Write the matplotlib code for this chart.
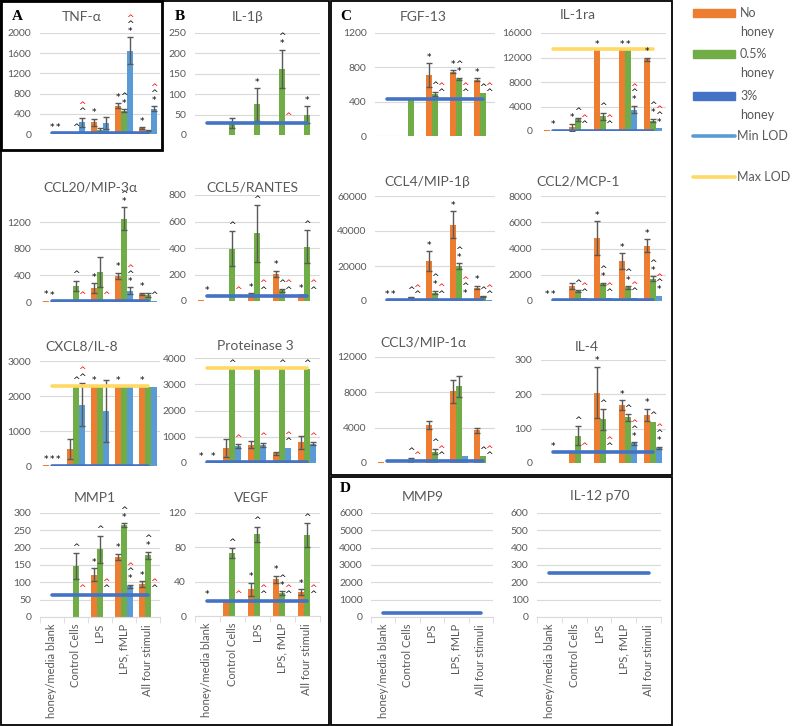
import matplotlib
matplotlib.use("Agg")
import matplotlib.pyplot as plt
from matplotlib.lines import Line2D
from matplotlib.patches import Rectangle
import numpy as np

plt.rcParams['font.family'] = ['Lato', 'DejaVu Sans']

# ---------------- data ----------------
categories = ["honey/media blank", "Control Cells", "LPS", "LPS, fMLP", "All four stimuli"]
series_names = ["No\nhoney", "0.5%\nhoney", "3%\nhoney"]

# each *_vals / *_errs: [No honey, 0.5% honey, 3% honey] x categories
TNF_vals = [[0, 0, 230, 560, 110], [0, 10, 80, 460, 60], [0, 230, 220, 1650, 500]]
TNF_errs = [[0, 0, 70, 50, 20], [0, 0, 40, 30, 10], [0, 90, 120, 270, 50]]
TNF_lod = [20, None]
TNF_marks = [(0, 1, "*"), (0, 2, "*"), (1, 1, "^"), (1, 2, "^r"), (2, 0, "*"), (3, 0, "*"),
             (3, 1, "*^"), (3, 2, "*^r"), (4, 0, "*"), (4, 2, "*^r")]

IL1b_vals = [[0, 0, 0, 0, 0], [0, 30, 75, 162, 50], [0, 0, 0, 0, 0]]
IL1b_errs = [[0, 0, 0, 0, 0], [0, 12, 40, 47, 20], [0, 0, 0, 0, 0]]
IL1b_lod = [30, None]
IL1b_marks = [(2, 1, "*"), (3, 1, "*^"), (3, 2, "r"), (4, 1, "*")]

CCL20_vals = [[20, 0, 210, 390, 120], [0, 240, 450, 1250, 100], [0, 0, 0, 170, 10]]
CCL20_errs = [[0, 0, 70, 50, 20], [0, 80, 220, 170, 30], [0, 0, 0, 50, 0]]
CCL20_lod = [10, None]
CCL20_marks = [(0, 0, "*"), (0, 1, "*"), (1, 1, "^"), (1, 2, "r"), (2, 0, "*"), (2, 2, "r"),
               (3, 0, "*"), (3, 1, "*^"), (3, 2, "*^r"), (4, 0, "*"), (4, 2, "^")]

CCL5_vals = [[5, 0, 50, 205, 50], [0, 395, 510, 80, 410], [0, 0, 0, 0, 0]]
CCL5_errs = [[0, 0, 10, 25, 0], [0, 130, 215, 10, 125], [0, 0, 0, 0, 0]]
CCL5_lod = [38, None]
CCL5_marks = [(0, 1, "*"), (1, 1, "^"), (1, 2, "r"), (2, 0, "*"), (2, 1, "^"), (2, 2, "^r"),
              (3, 0, "*"), (3, 1, "^"), (3, 2, "^r"), (4, 0, "*"), (4, 1, "^"), (4, 2, "^r")]

CXCL8_vals = [[20, 480, 2270, 2270, 2270], [0, 2270, 2270, 2270, 2270], [0, 1750, 1580, 2270, 2270]]
CXCL8_errs = [[0, 280, 0, 0, 0], [0, 0, 0, 0, 0], [0, 620, 880, 0, 0]]
CXCL8_lod = [10, 2290]
CXCL8_marks = [(0, 0, "*"), (0, 1, "*"), (0, 2, "*"), (1, 1, "^"), (1, 2, "^r"),
               (2, 0, "*"), (3, 0, "*"), (4, 0, "*")]

PR3_vals = [[10, 570, 690, 370, 790], [0, 3580, 3580, 3580, 3580], [0, 640, 690, 580, 740]]
PR3_errs = [[0, 330, 130, 50, 250], [0, 0, 0, 0, 0], [0, 80, 80, 0, 60]]
PR3_lod = [25, 3620]
PR3_marks = [(0, 0, "*"), (0, 2, "*"), (1, 1, "^"), (1, 2, "r"), (2, 2, "r"), (3, 1, "^"),
             (3, 2, "^r"), (4, 1, "^"), (4, 2, "r")]

MMP1_vals = [[0, 0, 122, 173, 95], [0, 147, 195, 265, 178], [0, 0, 0, 88, 0]]
MMP1_errs = [[0, 0, 18, 10, 8], [0, 37, 40, 6, 10], [0, 0, 0, 5, 0]]
MMP1_lod = [64, None]
MMP1_marks = [(1, 1, "^"), (1, 2, "r"), (2, 0, "*"), (2, 1, "^"), (2, 2, "^r"), (3, 0, "*"),
              (3, 1, "*^"), (3, 2, "*^r"), (4, 0, "*"), (4, 1, "*^"), (4, 2, "^r")]

VEGF_vals = [[0, 17, 31, 43, 28], [0, 73, 95, 27, 94], [0, 0, 0, 0, 0]]
VEGF_errs = [[0, 0, 8, 4, 3], [0, 6, 9, 2, 14], [0, 0, 0, 0, 0]]
VEGF_lod = [18, None]
VEGF_marks = [(0, 1, "*"), (1, 1, "^"), (1, 2, "r"), (2, 0, "*"), (2, 1, "^"), (2, 2, "^r"),
              (3, 0, "*"), (3, 1, "*^"), (3, 2, "^r"), (4, 0, "*"), (4, 1, "^"), (4, 2, "^r")]

FGF_vals = [[0, 0, 710, 750, 655], [0, 430, 490, 665, 500], [0, 0, 0, 0, 0]]
FGF_errs = [[0, 0, 140, 20, 20], [0, 0, 25, 15, 0], [0, 0, 0, 0, 0]]
FGF_lod = [433, None]
FGF_marks = [(2, 0, "*"), (2, 1, "^"), (2, 2, "^r"), (3, 0, "*"), (3, 1, "*^"), (3, 2, "^r"),
             (4, 0, "*"), (4, 1, "^"), (4, 2, "^r")]

IL1ra_vals = [[100, 600, 13200, 13200, 11700], [0, 1900, 2400, 13200, 1700], [0, 100, 0, 3500, 500]]
IL1ra_errs = [[0, 600, 0, 0, 300], [0, 250, 600, 0, 300], [0, 0, 0, 600, 0]]
IL1ra_lod = [50, 13430]
IL1ra_marks = [(0, 1, "*"), (1, 0, "*"), (1, 1, "^"), (1, 2, "^r"), (2, 0, "*"), (2, 1, "^"),
               (2, 2, "^r"), (3, 0, "*"), (3, 1, "*"), (3, 2, "*^r"), (4, 0, "*"), (4, 1, "*^"),
               (4, 2, "*^r")]

CCL4_vals = [[0, 0, 22800, 43500, 7700], [0, 2200, 4800, 20000, 2600], [0, 0, 500, 800, 300]]
CCL4_errs = [[0, 0, 5500, 7700, 1000], [0, 300, 1000, 1500, 200], [0, 0, 0, 0, 0]]
CCL4_lod = [300, None]
CCL4_marks = [(0, 1, "*"), (0, 2, "*"), (1, 1, "^"), (1, 2, "^r"), (2, 0, "*"), (2, 1, "*^"),
              (2, 2, "^r"), (3, 0, "*"), (3, 1, "*^"), (3, 2, "*^r"), (4, 0, "*"), (4, 1, "^"),
              (4, 2, "^r")]

CCL2_vals = [[0, 1140, 4800, 3050, 4200], [0, 750, 1300, 1050, 1700], [0, 200, 200, 250, 400]]
CCL2_errs = [[0, 200, 1300, 600, 500], [0, 100, 100, 100, 200], [0, 0, 0, 0, 0]]
CCL2_lod = [50, None]
CCL2_marks = [(0, 0, "*"), (0, 1, "*"), (1, 1, "^"), (1, 2, "^r"), (2, 0, "*"), (2, 1, "*^"),
              (2, 2, "^r"), (3, 0, "*"), (3, 1, "*^"), (3, 2, "^r"), (4, 0, "*"), (4, 1, "*^"),
              (4, 2, "*^r")]

CCL3_vals = [[100, 0, 4300, 8100, 3700], [0, 450, 1300, 8700, 800], [0, 0, 0, 800, 50]]
CCL3_errs = [[0, 0, 400, 1300, 300], [0, 150, 300, 1200, 0], [0, 0, 0, 0, 0]]
CCL3_lod = [180, None]
CCL3_marks = [(1, 1, "^"), (1, 2, "r"), (2, 1, "^"), (2, 2, "^r"), (4, 1, "^"), (4, 2, "^r")]

IL4_vals = [[0, 30, 205, 168, 140], [0, 80, 127, 133, 120], [0, 0, 0, 57, 44]]
IL4_errs = [[0, 0, 75, 15, 18], [0, 28, 30, 10, 0], [0, 0, 0, 4, 4]]
IL4_lod = [31, None]
IL4_marks = [(0, 1, "*"), (1, 1, "^"), (1, 2, "r"), (2, 0, "*"), (2, 1, "^"), (2, 2, "^r"),
             (3, 0, "*"), (3, 1, "^"), (3, 2, "*^r"), (4, 0, "*"), (4, 1, "^"), (4, 2, "*^r")]

MMP9_vals = [[0, 0, 0, 0, 0], [0, 0, 0, 0, 0], [0, 0, 0, 0, 0]]
MMP9_errs = [[0, 0, 0, 0, 0], [0, 0, 0, 0, 0], [0, 0, 0, 0, 0]]
MMP9_lod = [250, None]

IL12_vals = [[0, 0, 0, 0, 0], [0, 0, 0, 0, 0], [0, 0, 0, 0, 0]]
IL12_errs = [[0, 0, 0, 0, 0], [0, 0, 0, 0, 0], [0, 0, 0, 0, 0]]
IL12_lod = [254, None]

# ---------------- style / layout ----------------
bar_colors = ["#ED7D31", "#70AD47", "#5B9BD5"]
minlod_color = "#4472C4"
maxlod_color = "#FFD966"
grey = "#595959"

W, H = 800, 726
fig = plt.figure(figsize=(8, 7.26), dpi=100)

cols = {
    "c0": (39.5, 160.0), "c1": (194.5, 319.5),
    "C0": (375.0, 495.0), "C1": (540.5, 665.5),
    "D0": (371.0, 493.0), "D1": (537.0, 661.0),
}

# (title, vals, errs, lod, marks, col, y_zero_px, y_top_px, ymax, ystep, ytickmax, title_xy, xlabels)
charts = [
    ("TNF-α", TNF_vals, TNF_errs, TNF_lod, TNF_marks, "c0", 134, 33, 2000, 400, 2000, (82, 17), False),
    ("IL-1β", IL1b_vals, IL1b_errs, IL1b_lod, IL1b_marks, "c1", 135, 33, 250, 50, 250, (248, 17), False),
    ("CCL20/MIP-3α", CCL20_vals, CCL20_errs, CCL20_lod, CCL20_marks, "c0", 302, 202, 1500, 400, 1200, (90, 187), False),
    ("CCL5/RANTES", CCL5_vals, CCL5_errs, CCL5_lod, CCL5_marks, "c1", 301, 195, 800, 200, 800, (252, 187), False),
    ("CXCL8/IL-8", CXCL8_vals, CXCL8_errs, CXCL8_lod, CXCL8_marks, "c0", 466, 361, 3000, 1000, 3000, (82, 346), False),
    ("Proteinase 3", PR3_vals, PR3_errs, PR3_lod, PR3_marks, "c1", 463, 358, 4000, 1000, 4000, (255, 346), False),
    ("MMP1", MMP1_vals, MMP1_errs, MMP1_lod, MMP1_marks, "c0", 617, 513, 300, 50, 300, (95, 498), True),
    ("VEGF", VEGF_vals, VEGF_errs, VEGF_lod, VEGF_marks, "c1", 616, 513, 120, 40, 120, (252, 498), True),
    ("FGF-13", FGF_vals, FGF_errs, FGF_lod, FGF_marks, "C0", 136, 33, 1200, 400, 1200, (423, 17), False),
    ("IL-1ra", IL1ra_vals, IL1ra_errs, IL1ra_lod, IL1ra_marks, "C1", 131, 33, 16000, 4000, 16000, (578, 15), False),
    ("CCL4/MIP-1β", CCL4_vals, CCL4_errs, CCL4_lod, CCL4_marks, "C0", 301, 196, 60000, 20000, 60000, (427, 182), False),
    ("CCL2/MCP-1", CCL2_vals, CCL2_errs, CCL2_lod, CCL2_marks, "C1", 301, 196, 8000, 2000, 8000, (578, 182), False),
    ("CCL3/MIP-1α", CCL3_vals, CCL3_errs, CCL3_lod, CCL3_marks, "C0", 463, 357, 12000, 4000, 12000, (423, 343), False),
    ("IL-4", IL4_vals, IL4_errs, IL4_lod, IL4_marks, "C1", 463, 360, 300, 100, 300, (587, 347), False),
    ("MMP9", MMP9_vals, MMP9_errs, MMP9_lod, [], "D0", 617, 513, 6000, 1000, 6000, (423, 497), True),
    ("IL-12 p70", IL12_vals, IL12_errs, IL12_lod, [], "D1", 617, 513, 600, 100, 600, (600, 496), True),
]

offs = [-0.25, 0.0, 0.25]
x = np.arange(len(categories))
MARK_FS = 6.5
LINE_PT = 4.6  # vertical spacing of stacked marks (points)

for (title, vals, errs, lod, marks, col, y0, yt, ymax, ystep, ytmax, txy, xl) in charts:
    left, right = cols[col]
    ax = fig.add_axes([left / W, 1 - y0 / H, (right - left) / W, (y0 - yt) / H])
    for s in range(3):
        v = np.array(vals[s], dtype=float)
        e = np.array(errs[s], dtype=float)
        ax.bar(x + offs[s], v, width=0.25, color=bar_colors[s], zorder=2)
        m = e > 0
        if m.any():
            ax.errorbar((x + offs[s])[m], v[m], yerr=e[m], fmt='none', ecolor=grey,
                        elinewidth=1.0, capsize=2.3, capthick=1.0, zorder=3)
    if lod[0] is not None:
        ax.plot([x[0], x[-1]], [lod[0], lod[0]], color=minlod_color, lw=2.6,
                solid_capstyle='round', zorder=4)
    if lod[1] is not None:
        ax.plot([x[0], x[-1]], [lod[1], lod[1]], color=maxlod_color, lw=2.6,
                solid_capstyle='round', zorder=4)
    ax.set_xlim(-0.5, 4.5)
    ax.set_ylim(0, ymax)
    ax.set_yticks(np.arange(0, ytmax + 1, ystep))
    ax.yaxis.grid(True, color="#D9D9D9", lw=0.8)
    ax.set_axisbelow(True)
    for sp in ax.spines.values():
        sp.set_visible(False)
    ax.tick_params(axis='y', length=0, pad=6, labelsize=7.5, labelcolor=grey)
    if xl:
        ax.spines['bottom'].set_visible(True)
        ax.spines['bottom'].set_color("#D9D9D9")
        ax.set_xticks(x)
        ax.set_xticklabels(categories, rotation=90, fontsize=8, color=grey)
        ax.set_xticks(np.arange(-0.5, 5.0, 1.0), minor=True)
        ax.tick_params(axis='x', which='major', length=0, pad=5)
        ax.tick_params(axis='x', which='minor', length=4, color="#D9D9D9")
    else:
        ax.set_xticks([])
    for (c, s, txt) in marks:
        top = vals[s][c] + errs[s][c]
        base = max(top, lod[0] if lod[0] is not None else 0)
        black = [ch for ch in txt if ch != "r"]
        nb = len(black)
        if nb:
            ax.annotate("\n".join(reversed(black)), xy=(c + offs[s], base), xytext=(0, 1.0),
                        textcoords='offset points', ha='center', va='bottom',
                        fontsize=MARK_FS, color="black", family='DejaVu Sans',
                        linespacing=0.72, annotation_clip=False, zorder=5)
        if "r" in txt:
            ax.annotate("^", xy=(c + offs[s], base), xytext=(0, 1.0 + LINE_PT * nb),
                        textcoords='offset points', ha='center', va='bottom',
                        fontsize=MARK_FS, color="red", family='DejaVu Sans',
                        annotation_clip=False, zorder=5)
    fig.text(txy[0] / W, 1 - txy[1] / H, title, ha='center', va='center',
             fontsize=10, color=grey)

# ---------------- panel letters ----------------
for lab, (px, py) in {"A": (12, 16), "B": (175, 16), "C": (340, 16), "D": (340, 489)}.items():
    fig.text(px / W, 1 - py / H, lab, ha='left', va='center', fontsize=11,
             fontweight='bold', family='Liberation Serif')

# ---------------- panel borders ----------------
def box(x0, y0, x1, y1, lw):
    fig.add_artist(Rectangle((x0 / W, 1 - y1 / H), (x1 - x0) / W, (y1 - y0) / H,
                             transform=fig.transFigure, fill=False, ec='black', lw=lw))

box(1, 1, 329, 725, 1.3)
box(1, 1, 162, 150, 2.0)
box(331, 1, 672, 475, 1.3)
box(331, 477, 672, 725, 1.3)

# ---------------- legend ----------------
leg_font = 9
legend_rows = [(13, 32), (54, 73), (96, 115)]
patch_colors = ["#ED7D31", "#70AD47", "#4472C4"]
for (ya, yb), col_, name in zip(legend_rows, patch_colors, series_names):
    fig.add_artist(Rectangle((693 / W, 1 - (ya + 3.5) / H), 42 / W, 7 / H,
                             transform=fig.transFigure, color=col_))
    l1, l2 = name.split("\n")
    fig.text(740 / W, 1 - ya / H, l1, ha='left', va='center', fontsize=leg_font, color=grey)
    fig.text(740 / W, 1 - yb / H, l2, ha='left', va='center', fontsize=leg_font, color=grey)
for yy, col_, name in [(136, "#5B9BD5", "Min LOD"), (177, maxlod_color, "Max LOD")]:
    fig.add_artist(Line2D([693 / W, 735 / W], [1 - yy / H, 1 - yy / H], transform=fig.transFigure,
                          color=col_, lw=2.6, solid_capstyle='round'))
    fig.text(737 / W, 1 - yy / H, name, ha='left', va='center', fontsize=leg_font, color=grey)

fig.savefig("out.png", dpi=100)
